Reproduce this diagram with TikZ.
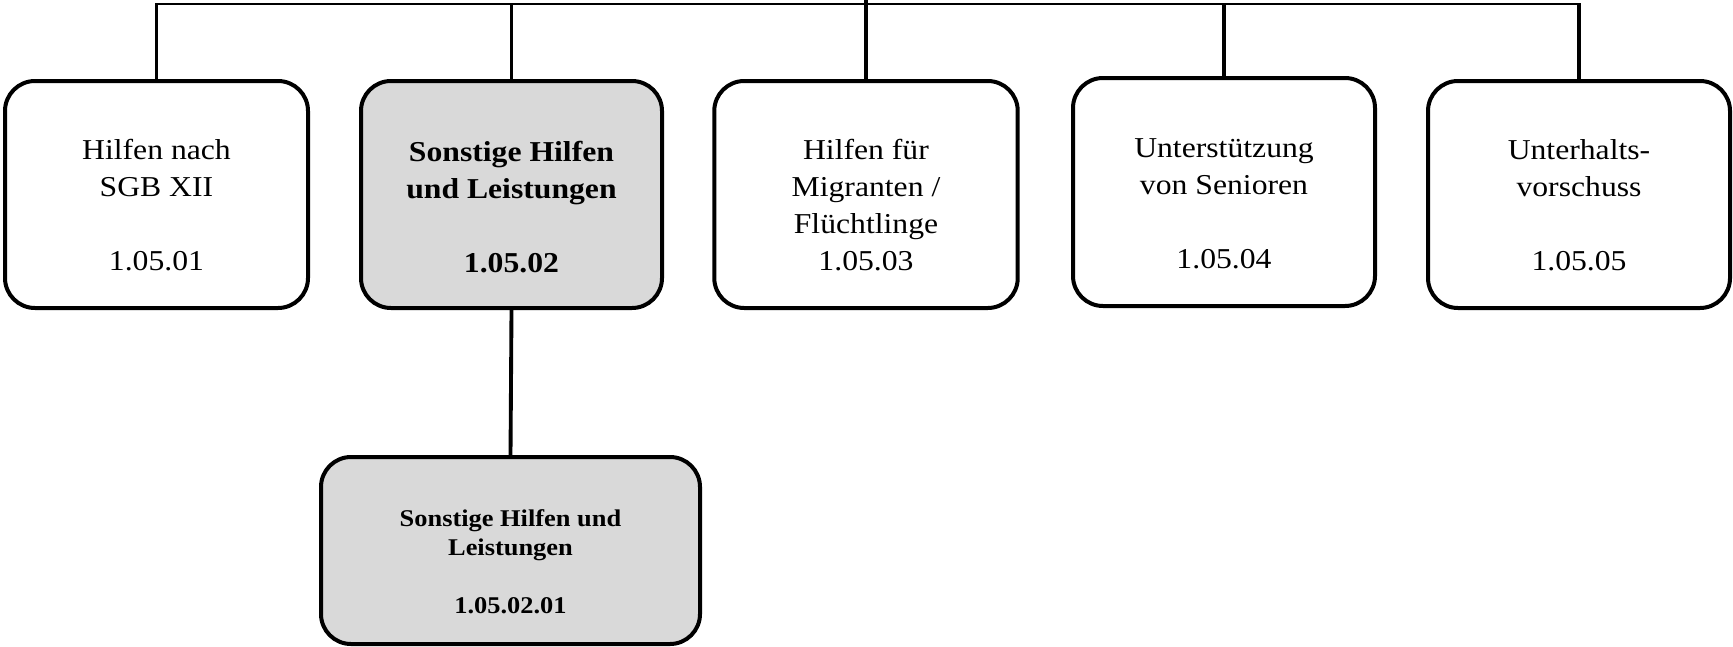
\documentclass[tikz,border=0pt]{standalone}
\usepackage{fontspec}
\setmainfont{Liberation Serif}[FakeStretch=1.1]
\begin{document}
\begin{tikzpicture}[x=0.75pt,y=-0.75pt,
  box/.style={draw=black, line width=3pt, rounded corners=22.5pt, inner sep=0pt, fill=white},
  greybox/.style={box, fill=boxgrey},
  wire/.style={draw=black, line width=2.9pt},
  barwire/.style={draw=black, line width=2.1pt},
  lbl/.style={anchor=base, align=center, inner sep=0pt, font=\fontsize{21.6pt}{27.75pt}\selectfont},
  sublbl/.style={anchor=base, align=center, inner sep=0pt, font=\bfseries\fontsize{18pt}{21.75pt}\selectfont}]
\definecolor{boxgrey}{RGB}{217,217,217}
\useasboundingbox (0,0) rectangle (1733,646);

% horizontal bus line and its top edge
\coordinate (bar) at (866,4);
\coordinate (bartop) at (866,2.6);
\coordinate (parent) at (866,0);

% first level boxes
\node[box, minimum width=227.25pt, minimum height=170.25pt] (b1) at (156.5,194.5) {};
\node[greybox, minimum width=225.75pt, minimum height=170.25pt] (b2) at (511.5,194.5) {};
\node[box, minimum width=227.6pt, minimum height=170.25pt] (b3) at (866,194.5) {};
\node[box, minimum width=226.5pt, minimum height=171pt] (b4) at (1224,192) {};
\node[box, minimum width=226.5pt, minimum height=170.25pt] (b5) at (1579,194.5) {};
% second level box
\node[greybox, minimum width=284.25pt, minimum height=140.25pt] (c1) at (510.5,550.5) {};

% connectors
\draw[barwire] (b1.north |- bar) -- (b5.north |- bar);
\draw[wire] (b1.north) -- (b1.north |- bartop);
\draw[wire] (b2.north) -- (b2.north |- bartop);
\draw[wire] (b3.north) -- (parent);
\draw[wire] (b4.north) -- (b4.north |- bartop);
\draw[wire] (b5.north) -- (b5.north |- bartop);
\draw[wire] (b2.south) -- (c1.north);

% labels (anchored at the baseline of the last line)
\node[lbl] (t1) at (156.5,270) {Hilfen nach\\SGB XII\\[27.75pt]1.05.01};
\node[lbl, font=\bfseries\fontsize{21.6pt}{27.75pt}\selectfont] (t2) at (511.5,272) {Sonstige Hilfen\\und Leistungen\\[27.75pt]1.05.02};
\node[lbl] (t3) at (866,270) {Hilfen für\\Migranten /\\Flüchtlinge\\1.05.03};
\node[lbl] (t4) at (1224,268) {Unterstützung\\von Senioren\\[27.75pt]1.05.04};
\node[lbl] (t5) at (1579,270) {Unterhalts-\\vorschuss\\[27.75pt]1.05.05};
\node[sublbl] (tc) at (510.5,613) {Sonstige Hilfen und\\Leistungen\\[21.75pt]1.05.02.01};
\end{tikzpicture}
\end{document}
